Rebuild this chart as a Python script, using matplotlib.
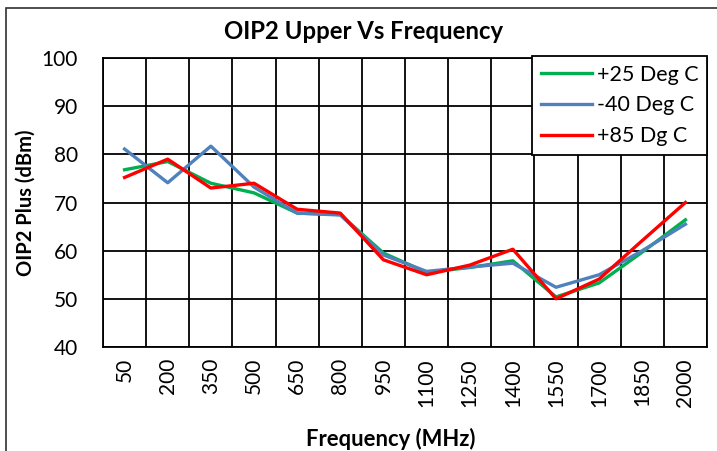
import numpy as np
import matplotlib.pyplot as plt
from matplotlib.patches import Rectangle

plt.rcParams['font.family'] = ['Lato', 'DejaVu Sans']

# frequencies (MHz) and OIP2 readings per temperature
freqs = [50, 200, 350, 500, 650, 800, 950, 1100, 1250, 1400, 1550, 1700, 1850, 2000]
oip2_p25 = [76.8, 78.5, 74.0, 72.0, 67.8, 67.5, 59.5, 55.5, 56.5, 57.9, 50.4, 53.3, 59.7, 66.4]
oip2_m40 = [81.1, 74.1, 81.7, 73.2, 67.8, 67.4, 59.1, 55.7, 56.6, 57.4, 52.4, 55.0, 60.0, 65.5]
oip2_p85 = [75.2, 79.0, 73.0, 74.0, 68.6, 67.8, 58.1, 55.0, 57.0, 60.3, 50.0, 54.1, 62.1, 70.0]

series = [
    ('+25 Deg C', oip2_p25, '#00B050'),
    ('-40 Deg C', oip2_m40, '#4F81BD'),
    ('+85 Dg C', oip2_p85, '#FF0000'),
]

W, H = 717, 451
fig = plt.figure(figsize=(W / 100, H / 100), dpi=100)
# outer chart border
fig.patches.append(Rectangle((6 / W, -0.1), 1.2, 1 - 8 / H + 0.1, transform=fig.transFigure,
                             fill=False, edgecolor='#303030', linewidth=1.2))
ax = fig.add_axes([103 / W, 1 - 347 / H, 604 / W, 289 / H])

x = np.arange(len(freqs))
for label, vals, color in series:
    ax.plot(x, vals, color=color, linewidth=2.4, label=label, zorder=3)

ax.set_xlim(-0.5, len(freqs) - 0.5)
ax.set_ylim(40, 100)
ax.set_yticks(np.arange(40, 101, 10))
ax.set_xticks(x)
ax.set_xticklabels([str(f) for f in freqs], rotation=90)
ax.set_xticks(np.arange(-0.5, len(freqs), 1), minor=True)
ax.tick_params(axis='x', which='both', length=0, labelsize=15, pad=8)
ax.tick_params(axis='y', length=0, labelsize=15, pad=18)
ax.grid(True, which='minor', axis='x', color='black', linewidth=1.3)
ax.grid(True, which='major', axis='y', color='black', linewidth=1.3)
for s in ax.spines.values():
    s.set_color('black')
    s.set_linewidth(1.3)

# titles placed like the Excel chart
fig.text(364 / W, 1 - 39 / H, 'OIP2 Upper Vs Frequency', fontsize=17.2,
         fontweight='bold', ha='center', va='baseline')
fig.text(26 / W, 1 - 203 / H, 'OIP2 Plus (dBm)', fontsize=14.5, fontweight='bold',
         rotation=90, ha='center', va='center')
fig.text(391 / W, 1 - 446 / H, 'Frequency (MHz)', fontsize=15.8, fontweight='bold',
         ha='center', va='baseline')

leg = ax.legend(loc='upper right', bbox_to_anchor=(1.0, 1.007), borderaxespad=0,
                fontsize=15.5, handlelength=2.4, handletextpad=0.2, labelspacing=0.5,
                borderpad=0.4, fancybox=False, framealpha=1, edgecolor='black')
leg.get_frame().set_linewidth(1.3)
leg.set_zorder(5)

fig.savefig('out.png', dpi=100)
